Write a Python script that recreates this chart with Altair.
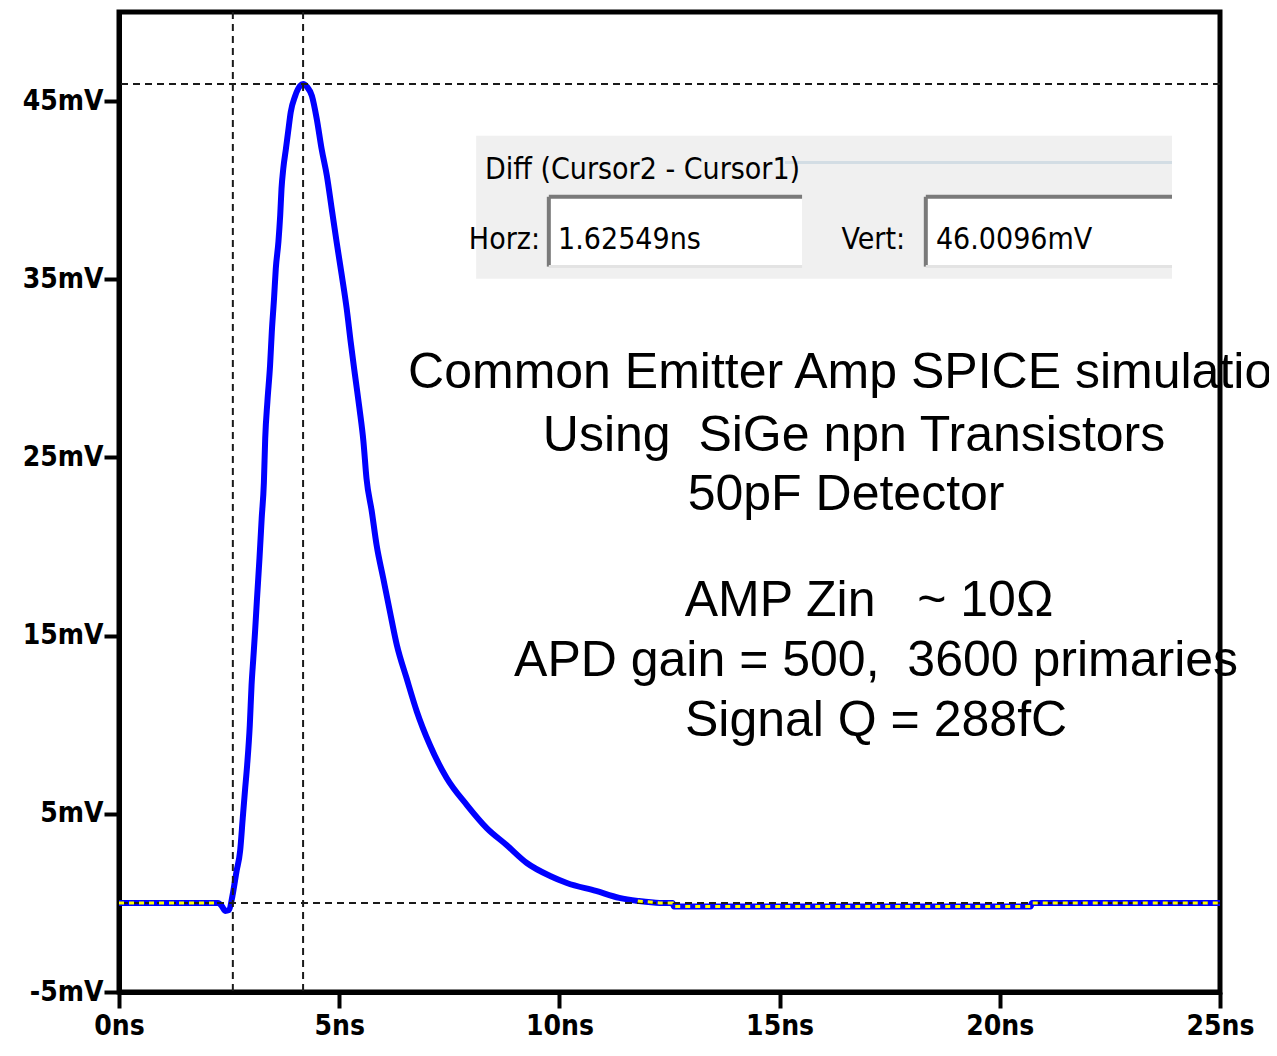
import altair as alt
import pandas as pd

# ---- trace (time in ns, amplitude in mV) ----
t_ns = [0.0, 1.0, 2.25, 2.34, 2.41, 2.50, 2.58, 2.67, 2.75, 2.81, 2.86, 2.91, 2.97,
        3.01, 3.05, 3.09, 3.13, 3.19, 3.24, 3.29, 3.32, 3.37, 3.43, 3.47, 3.52, 3.56,
        3.62, 3.66, 3.69, 3.73, 3.79, 3.84, 3.90, 4.00, 4.11, 4.18, 4.27, 4.38, 4.49,
        4.60, 4.72, 4.83, 4.94, 5.06, 5.17, 5.26, 5.36, 5.46, 5.55, 5.62, 5.74, 5.85,
        6.00, 6.15, 6.31, 6.53, 6.76, 7.06, 7.44, 7.90, 8.35, 8.80, 9.26, 9.79, 10.17,
        10.83, 11.36, 11.78, 12.28, 12.57, 12.60, 20.70, 20.73, 25.0]
v_mV = [0.0, 0.0, 0.0, -0.2, -0.45, -0.4, 0.45, 1.79, 2.91, 4.76, 6.28, 7.74, 9.98,
        12.22, 13.73, 15.25, 16.93, 19.34, 21.58, 23.6, 26.07, 28.14, 30.16, 32.06, 33.91, 35.59,
        37.11, 38.57, 40.08, 41.20, 42.32, 43.27, 44.39, 45.29, 45.85, 45.96, 45.80, 45.29, 44.00,
        42.32, 40.81, 38.96, 37.11, 35.20, 33.35, 31.50, 29.60, 27.75, 25.90, 23.82, 21.97, 20.07,
        18.22, 16.37, 14.46, 12.61, 10.76, 8.86, 7.01, 5.49, 4.20, 3.25, 2.24, 1.51, 1.12,
        0.67, 0.28, 0.11, 0.0, 0.0, -0.2, -0.2, 0.0, 0.0]

# yellow dotted overlay on the flat parts of the trace
yel_seg = ["a", "a"] + ["b"] * 8
yel_t = [0.0, 2.25, 11.78, 12.28, 12.57, 12.60, 20.70, 20.73, 24.98, 25.0]
yel_v = [0.0, 0.0, 0.11, 0.0, 0.0, -0.2, -0.2, 0.0, 0.0, 0.0]

# cursors
cursor_t = [2.585, 4.18]
cursor_v = [45.96, 0.0]

# axis ticks
x_ticks = [0, 5, 10, 15, 20, 25]
y_ticks = [45, 35, 25, 15, 5, -5]

NB = "\u00a0"
# annotation block
note_lines = ["Common Emitter Amp SPICE simulation",
              "Using" + NB + " SiGe npn Transistors",
              "50pF Detector",
              "AMP Zin" + NB + NB + " ~ 10\u03a9",
              "APD gain = 500," + NB + " 3600 primaries",
              "Signal Q = 288fC"]
note_t = [16.69, 16.69, 16.51, 17.03, 17.19, 17.19]
note_v = [28.87, 25.39, 22.03, 16.09, 12.72, 9.36]

# cursor readout panel
panel_t = [8.11]
panel_t2 = [23.91]
panel_v = [35.03]
panel_v2 = [43.05]
groove_t = [15.12]
groove_t2 = [23.91]
groove_v = [41.55]
box_t = [9.76, 18.32]
box_t2 = [15.51, 23.91]
box_v = [35.71, 35.71]
box_v2 = [39.63, 39.63]
label_texts = ["Diff (Cursor2 - Cursor1)", "1.62549ns", "46.0096mV"]
label_t = [8.31, 9.97, 18.55]
label_v = [40.64, 36.72, 36.72]
rlabel_texts = ["Horz:", "Vert:"]
rlabel_t = [9.56, 17.85]
rlabel_v = [36.72, 36.72]

NARROW = "DejaVu Sans Condensed, DejaVu Sans, sans-serif"
ARIAL = "Liberation Sans, Arial, sans-serif"

xs = alt.Scale(domain=[0, 25], nice=False, zero=False)
ys = alt.Scale(domain=[-5, 50], nice=False, zero=False)
x_axis = alt.Axis(values=x_ticks, labelExpr="datum.value + 'ns'", title=None,
                  labelFlush=False, labelPadding=4, tickSize=16, grid=False)
y_axis = alt.Axis(values=y_ticks, labelExpr="datum.value + 'mV'", title=None,
                  labelPadding=1, tickSize=15, grid=False)

trace_df = pd.DataFrame({"t": t_ns, "v": v_mV})
yel_df = pd.DataFrame({"seg": yel_seg, "t": yel_t, "v": yel_v})
note_df = pd.DataFrame({"txt": note_lines, "t": note_t, "v": note_v})
panel_df = pd.DataFrame({"t": panel_t, "t2": panel_t2, "v": panel_v, "v2": panel_v2})
groove_df = pd.DataFrame({"t": groove_t, "t2": groove_t2, "v": groove_v})
box_df = pd.DataFrame({"t": box_t, "t2": box_t2, "v": box_v, "v2": box_v2})
lab_df = pd.DataFrame({"txt": label_texts, "t": label_t, "v": label_v})
rlab_df = pd.DataFrame({"txt": rlabel_texts, "t": rlabel_t, "v": rlabel_v})
vc_df = pd.DataFrame({"t": cursor_t})
hc_df = pd.DataFrame({"v": cursor_v})


def X(f="t"):
    return alt.X(f"{f}:Q", scale=xs, axis=x_axis)


def Y(f="v"):
    return alt.Y(f"{f}:Q", scale=ys, axis=y_axis)


panel = alt.Chart(panel_df).mark_rect(color="#f0f0f0").encode(
    x=X(), x2="t2:Q", y=Y(), y2="v2:Q")
groove_dark = alt.Chart(groove_df).mark_rule(color="#d3dde4", strokeWidth=3).encode(
    x=X(), x2="t2:Q", y=Y())
boxes = alt.Chart(box_df).mark_rect(color="white").encode(
    x=X(), x2="t2:Q", y=Y(), y2="v2:Q")
box_top = alt.Chart(box_df).mark_rule(color="#7a7a7a", strokeWidth=4).encode(
    x=X(), x2="t2:Q", y=Y("v2"))
box_left = alt.Chart(box_df).mark_rule(color="#7a7a7a", strokeWidth=4).encode(
    x=X(), y=Y(), y2="v2:Q")
box_bottom = alt.Chart(box_df).mark_rule(color="#e3e3e3", strokeWidth=3).encode(
    x=X(), x2="t2:Q", y=Y())
labels = alt.Chart(lab_df).mark_text(
    align="left", baseline="alphabetic", font=NARROW, fontSize=30, color="black").encode(
    x=X(), y=Y(), text="txt:N")
rlabels = alt.Chart(rlab_df).mark_text(
    align="right", baseline="alphabetic", font=NARROW, fontSize=30, color="black").encode(
    x=X(), y=Y(), text="txt:N")

notes = alt.Chart(note_df).mark_text(
    align="center", baseline="alphabetic", font=ARIAL, fontSize=50, color="black").encode(
    x=X(), y=Y(), text="txt:N")

vcur = alt.Chart(vc_df).mark_rule(color="#1a1a1a", strokeWidth=2, strokeDash=[7, 5]).encode(
    x=X())
hcur = alt.Chart(hc_df).mark_rule(color="#1a1a1a", strokeWidth=2, strokeDash=[7, 5]).encode(
    y=Y())

trace = alt.Chart(trace_df).mark_line(
    color="#0000ff", strokeWidth=6, interpolate="monotone").encode(
    x=X(), y=Y(), order="t:Q")
yellow = alt.Chart(yel_df).mark_line(color="#ffff00", strokeWidth=3, strokeDash=[5, 5]).encode(
    x=X(), y=Y(), detail="seg:N", order="t:Q")

chart = alt.layer(
    trace, panel, groove_dark, boxes, box_top, box_left, box_bottom, labels, rlabels,
    notes, vcur, hcur, yellow
).properties(
    width=1101, height=980,
    autosize=alt.AutoSizeParams(type="none"),
    padding={"left": 111, "top": 4, "right": 49, "bottom": 50},
    background="white",
).configure_view(
    stroke="black", strokeWidth=5
).configure_axis(
    domainColor="black", domainWidth=5, tickColor="black", tickWidth=4,
    labelFont=NARROW, labelFontSize=28, labelFontWeight="bold", labelColor="black",
)

chart.save("out.html", embed_options={"renderer": "svg", "actions": False})
